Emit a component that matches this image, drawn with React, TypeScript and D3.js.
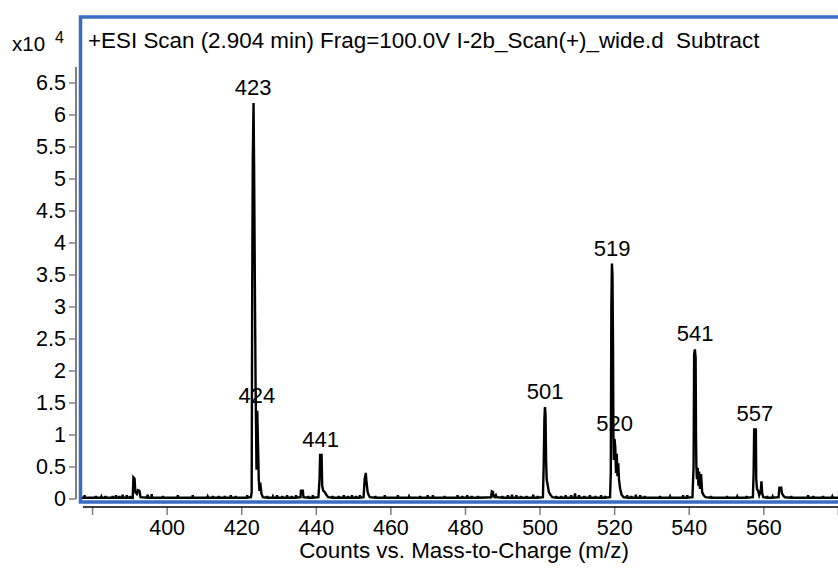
import { useEffect, useRef } from 'react'
import * as d3 from 'd3'

const width = 838
const height = 568

// intensities are in units of x10^4 counts
const yTicks = [0, 0.5, 1, 1.5, 2, 2.5, 3, 3.5, 4, 4.5, 5, 5.5, 6, 6.5]
const xTicks = [380, 400, 420, 440, 460, 480, 500, 520, 540, 560, 580]
const xTickLabels = ['', '400', '420', '440', '460', '480', '500', '520', '540', '560', '']

const peakLabels = ['423', '424', '441', '501', '519', '520', '541', '557']
const peakMz = [423.2, 424.2, 441.3, 501.5, 519.45, 520.1, 541.7, 557.75]
const peakCounts = [6.18, 1.37, 0.68, 1.43, 3.67, 0.93, 2.33, 1.08]

// profile clusters [m/z, counts]
const cluster391 = [[390.9, 0.01], [391.1, 0.33], [391.4, 0.31], [391.6, 0.1], [392.0, 0.07], [392.3, 0.13], [392.7, 0.12], [393.0, 0.02]]
const cluster423 = [[422.6, 0.02], [422.8, 0.1], [422.95, 3.4], [423.1, 5.3], [423.3, 6.18], [423.45, 5.2], [423.65, 3.4], [423.85, 1.8], [424.1, 0.45], [424.3, 1.37], [424.5, 0.85], [424.7, 0.3], [424.9, 0.12], [425.1, 0.25], [425.4, 0.08], [425.8, 0.02]]
const cluster436 = [[435.9, 0.02], [436.0, 0.12], [436.5, 0.12], [436.7, 0.02]]
const cluster441 = [[440.7, 0.02], [441.0, 0.3], [441.15, 0.68], [441.55, 0.68], [441.7, 0.2], [442.0, 0.12], [442.4, 0.1], [442.8, 0.06], [443.3, 0.02]]
const cluster453 = [[452.8, 0.02], [453.1, 0.3], [453.4, 0.4], [453.6, 0.25], [453.9, 0.1], [454.2, 0.05], [454.5, 0.02]]
const cluster487 = [[487.0, 0.02], [487.2, 0.11], [487.5, 0.1], [487.7, 0.03], [488.0, 0.02], [488.3, 0.05], [488.5, 0.02]]
const cluster501 = [[500.9, 0.02], [501.1, 0.5], [501.3, 1.25], [501.45, 1.43], [501.6, 1.3], [501.75, 0.6], [501.9, 0.3], [502.2, 0.2], [502.5, 0.1], [502.9, 0.06], [503.4, 0.02]]
const cluster519 = [[518.9, 0.02], [519.1, 0.4], [519.25, 3.0], [519.4, 3.67], [519.55, 3.5], [519.7, 2.4], [519.8, 1.0], [519.9, 0.6], [520.1, 0.93], [520.3, 0.8], [520.5, 0.4], [520.7, 0.7], [520.9, 0.35], [521.1, 0.55], [521.3, 0.3], [521.6, 0.15], [522.0, 0.06], [522.5, 0.02]]
const cluster541 = [[541.0, 0.02], [541.3, 0.5], [541.45, 2.25], [541.65, 2.33], [541.85, 2.2], [541.95, 1.0], [542.05, 0.5], [542.2, 0.3], [542.4, 0.48], [542.6, 0.2], [542.8, 0.42], [543.0, 0.15], [543.3, 0.38], [543.6, 0.1], [544.0, 0.05], [544.5, 0.02]]
const cluster557 = [[557.2, 0.02], [557.4, 0.4], [557.55, 1.08], [558.0, 1.08], [558.1, 0.3], [558.3, 0.15], [558.6, 0.12], [558.9, 0.05], [559.3, 0.12], [559.5, 0.27], [559.7, 0.08], [560.0, 0.02]]
const cluster565 = [[564.1, 0.02], [564.3, 0.17], [564.8, 0.17], [565.0, 0.08], [565.4, 0.04], [565.8, 0.02]]

// small baseline bumps [m/z, counts]
const noiseBumps = [
  [378.0, 0.05], [381.0, 0.04], [382.5, 0.03], [383.6, 0.04], [385.5, 0.04], [386.4, 0.05], [387.3, 0.04], [388.2, 0.06], [389.3, 0.05], [390.2, 0.04],
  [394.9, 0.06], [396.0, 0.07], [399.0, 0.04], [403.0, 0.05], [407.0, 0.05], [411.0, 0.03], [412.4, 0.04], [414.0, 0.04], [415.6, 0.04], [417.2, 0.05], [418.5, 0.04], [421.6, 0.05],
  [427.0, 0.04], [428.5, 0.03], [429.6, 0.05], [431.0, 0.04], [432.3, 0.05], [433.5, 0.04], [434.7, 0.05], [438.0, 0.04], [439.2, 0.05],
  [444.5, 0.04], [446.2, 0.04], [447.5, 0.05], [448.6, 0.04], [449.7, 0.05], [450.8, 0.04], [451.8, 0.05], [456.0, 0.04], [458.5, 0.05], [462.0, 0.05],
  [465.0, 0.03], [468.0, 0.04], [470.0, 0.05], [471.4, 0.05], [474.5, 0.04], [478.0, 0.05], [479.3, 0.04], [480.6, 0.05], [481.8, 0.04], [483.5, 0.04],
  [490.0, 0.04], [491.5, 0.05], [492.6, 0.06], [493.8, 0.05], [495.0, 0.04], [496.5, 0.04], [498.3, 0.06], [499.5, 0.04],
  [504.5, 0.04], [505.8, 0.04], [507.0, 0.05], [508.5, 0.05], [509.5, 0.08], [510.6, 0.05], [512.0, 0.04], [513.5, 0.05], [515.0, 0.04], [516.5, 0.05], [517.6, 0.04],
  [523.5, 0.05], [524.6, 0.04], [525.8, 0.06], [527.0, 0.05], [528.2, 0.04], [532.3, 0.04], [535.0, 0.03], [538.5, 0.05], [539.6, 0.05],
  [546.0, 0.04], [550.3, 0.04], [553.0, 0.03], [555.5, 0.04], [561.0, 0.04], [562.5, 0.03], [567.5, 0.04], [572.0, 0.05], [573.4, 0.04], [576.0, 0.04], [578.5, 0.03],
]

export default function App() {
  const ref = useRef<SVGSVGElement>(null)

  useEffect(() => {
    document.body.style.margin = '0'
    const svg = d3.select(ref.current)
    svg.selectAll('*').remove()

    const font = 'Liberation Sans, Arial, Helvetica, sans-serif'

    const x = d3.scaleLinear().domain([376.9, 580]).range([80.5, 837.9])
    const y = d3.scaleLinear().domain([0, 6.5]).range([498.5, 82.5])

    // clip to the plot frame
    svg.append('defs').append('clipPath').attr('id', 'plotClip')
      .append('rect').attr('x', 82).attr('y', 18).attr('width', 760).attr('height', 482)

    // build the profile from clusters + baseline bumps
    const pts: number[][] = []
    const clusters = [cluster391, cluster423, cluster436, cluster441, cluster453, cluster487, cluster501, cluster519, cluster541, cluster557, cluster565]
    clusters.forEach(c => c.forEach(p => pts.push(p)))
    noiseBumps.forEach(([m, v]) => {
      pts.push([m - 0.12, 0.012])
      pts.push([m, v])
      pts.push([m + 0.12, 0.012])
    })
    pts.push([376.9, 0.012])
    pts.push([580.5, 0.012])
    pts.sort((a, b) => a[0] - b[0])

    const line = d3.line<number[]>()
      .x(d => x(d[0]))
      .y(d => y(d[1]))

    svg.append('path')
      .datum(pts)
      .attr('clip-path', 'url(#plotClip)')
      .attr('d', line)
      .attr('fill', 'none')
      .attr('stroke', 'black')
      .attr('stroke-width', 2.4)
      .attr('stroke-linejoin', 'miter')

    // blue frame
    svg.append('rect')
      .attr('x', 80.5).attr('y', 17)
      .attr('width', 800).attr('height', 485)
      .attr('fill', 'none')
      .attr('stroke', '#3a6cc6')
      .attr('stroke-width', 3.5)

    // title
    svg.append('text')
      .attr('x', 88).attr('y', 48)
      .attr('font-family', font).attr('font-size', 22.4)
      .style('white-space', 'pre')
      .text('+ESI Scan (2.904 min) Frag=100.0V I-2b_Scan(+)_wide.d  Subtract')

    // x10^4
    const exp = svg.append('text')
      .attr('x', 12).attr('y', 51)
      .attr('font-family', font).attr('font-size', 20.5)
    exp.append('tspan').text('x10')
    exp.append('tspan').attr('x', 55).attr('y', 43).attr('font-size', 16).text('4')

    // y axis
    const yAxis = svg.append('g')
      .attr('transform', 'translate(76,0)')
      .call(d3.axisLeft(y).tickValues(yTicks).tickSize(7).tickPadding(3).tickFormat(d => String(d)))
    yAxis.select('.domain').remove()
    yAxis.selectAll('line').attr('stroke', '#808080').attr('stroke-width', 1.5)
    yAxis.selectAll('text').attr('font-family', font).attr('font-size', 21.5).attr('fill', 'black')
    svg.append('line')
      .attr('x1', 76).attr('x2', 76).attr('y1', 67).attr('y2', 499)
      .attr('stroke', '#808080').attr('stroke-width', 2)

    // x axis
    const xAxis = svg.append('g')
      .attr('transform', 'translate(0,507)')
      .call(d3.axisBottom(x).tickValues(xTicks).tickSize(8).tickPadding(5).tickFormat((_, i) => xTickLabels[i]))
    xAxis.select('.domain').remove()
    xAxis.selectAll('line').attr('stroke', '#808080').attr('stroke-width', 1.5)
    xAxis.selectAll('text').attr('font-family', font).attr('font-size', 21.5).attr('fill', 'black')
    svg.append('line')
      .attr('x1', 83).attr('x2', 838).attr('y1', 507).attr('y2', 507)
      .attr('stroke', 'black').attr('stroke-width', 1.5)

    svg.append('text')
      .attr('x', 464).attr('y', 558)
      .attr('text-anchor', 'middle')
      .attr('font-family', font).attr('font-size', 22.4)
      .text('Counts vs. Mass-to-Charge (m/z)')

    // peak annotations
    svg.selectAll('text.peak')
      .data(peakLabels)
      .join('text')
      .attr('class', 'peak')
      .attr('x', (_, i) => x(peakMz[i]))
      .attr('y', (_, i) => y(peakCounts[i]) - 8)
      .attr('text-anchor', 'middle')
      .attr('font-family', font).attr('font-size', 22)
      .text(d => d)
  }, [])

  return <svg ref={ref} width={width} height={height} style={{ display: 'block', background: 'white' }} />
}
